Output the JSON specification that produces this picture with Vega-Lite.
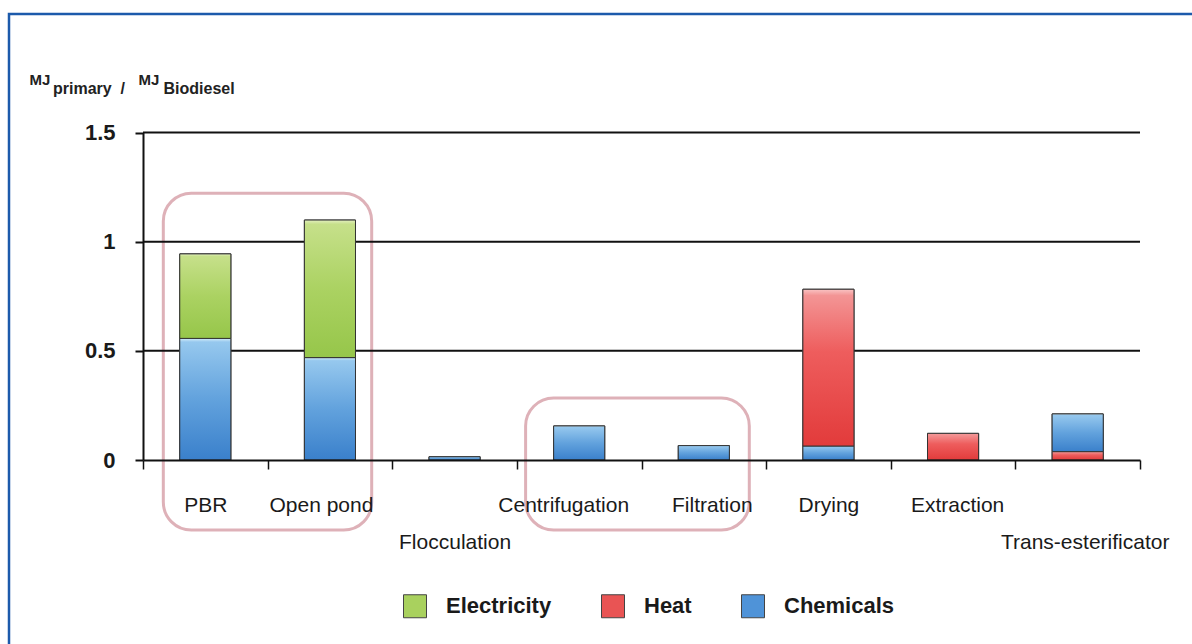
{
  "$schema": "https://vega.github.io/schema/vega-lite/v6.json",
  "width": 1183,
  "height": 630,
  "autosize": {"type": "none"},
  "padding": {"left": 9, "top": 14, "right": 0, "bottom": 0},
  "background": "white",
  "title": {
    "text": "primary\u00a0\u00a0/",
    "anchor": "start",
    "frame": "group",
    "orient": "top",
    "font": "Liberation Sans",
    "fontSize": 16,
    "fontWeight": "bold",
    "color": "#222222",
    "baseline": "alphabetic",
    "offset": 0,
    "dx": 44,
    "dy": 96
  },
  "datasets": {
    "energy": [
      {"process": "PBR", "type": "Chemicals", "value": 0.557, "order": 1},
      {"process": "PBR", "type": "Electricity", "value": 0.387, "order": 2},
      {"process": "Open pond", "type": "Chemicals", "value": 0.469, "order": 1},
      {"process": "Open pond", "type": "Electricity", "value": 0.63, "order": 2},
      {"process": "Flocculation", "type": "Chemicals", "value": 0.015, "order": 1},
      {"process": "Centrifugation", "type": "Chemicals", "value": 0.156, "order": 1},
      {"process": "Filtration", "type": "Chemicals", "value": 0.066, "order": 1},
      {"process": "Drying", "type": "Chemicals", "value": 0.064, "order": 1},
      {"process": "Drying", "type": "Heat", "value": 0.718, "order": 2},
      {"process": "Extraction", "type": "Heat", "value": 0.122, "order": 1},
      {"process": "Trans-esterificator", "type": "Heat", "value": 0.038, "order": 1},
      {"process": "Trans-esterificator", "type": "Chemicals", "value": 0.173, "order": 2}
    ]
  },
  "layer": [
    {
      "data": {"values": [{}]},
      "mark": {"type": "rect", "fillOpacity": 0, "stroke": "#d69ea6", "strokeOpacity": 0.8, "strokeWidth": 3, "cornerRadius": 28},
      "encoding": {
        "x": {"datum": "PBR", "type": "nominal", "bandPosition": 0.163},
        "x2": {"datum": "Open pond", "bandPosition": 0.835},
        "y": {"datum": 1.222, "type": "quantitative"},
        "y2": {"datum": -0.321}
      }
    },
    {
      "data": {"values": [{}]},
      "mark": {"type": "rect", "fillOpacity": 0, "stroke": "#d69ea6", "strokeOpacity": 0.8, "strokeWidth": 3, "cornerRadius": 28},
      "encoding": {
        "x": {"datum": "Centrifugation", "type": "nominal", "bandPosition": 0.07},
        "x2": {"datum": "Filtration", "bandPosition": 0.865},
        "y": {"datum": 0.284, "type": "quantitative"},
        "y2": {"datum": -0.321}
      }
    },
    {
      "data": {"values": [{"v": 0.5}, {"v": 1}, {"v": 1.5}]},
      "mark": {"type": "rule", "stroke": "#111111", "strokeWidth": 2},
      "encoding": {
        "x": {"datum": "PBR", "type": "nominal", "bandPosition": 0},
        "x2": {"datum": "Trans-esterificator", "bandPosition": 1},
        "y": {"field": "v", "type": "quantitative"}
      }
    },
    {
      "data": {"values": [{"label": "Biodiesel"}]},
      "mark": {"type": "text", "align": "left", "baseline": "alphabetic", "font": "Liberation Sans", "fontSize": 16, "fontWeight": "bold", "color": "#222222"},
      "encoding": {
        "x": {"datum": "PBR", "type": "nominal", "bandPosition": 0.165},
        "y": {"datum": 1.676, "type": "quantitative"},
        "text": {"field": "label", "type": "nominal"}
      }
    },
    {
      "data": {"name": "energy"},
      "transform": [
        {"stack": "value", "groupby": ["process"], "sort": [{"field": "order", "order": "ascending"}], "as": ["y0", "y1"]}
      ],
      "mark": {"type": "bar", "width": {"band": 0.41}, "stroke": "#333333", "strokeWidth": 1},
      "encoding": {
        "x": {
          "field": "process",
          "type": "nominal",
          "sort": null,
          "scale": {
            "domain": ["PBR", "Open pond", "Flocculation", "Centrifugation", "Filtration", "Drying", "Extraction", "Trans-esterificator"],
            "range": [134, 1131],
            "paddingInner": 0,
            "paddingOuter": 0
          },
          "axis": {
            "title": "MJ",
            "titleX": 129,
            "titleY": -376,
            "titleAngle": 0,
            "titleAlign": "left",
            "titleBaseline": "alphabetic",
            "titleFont": "Liberation Sans",
            "titleFontSize": 15,
            "titleFontWeight": "bold",
            "titleColor": "#222222",
            "offset": -184,
            "zindex": 1,
            "domainColor": "#111111",
            "domainWidth": 2,
            "tickColor": "#111111",
            "tickWidth": 1.5,
            "tickSize": 9,
            "tickBand": "extent",
            "labelFont": "Liberation Sans",
            "labelFontSize": 21,
            "labelColor": "#1a1a1a",
            "labelAngle": 0,
            "labelAlign": "center",
            "labelBaseline": "top",
            "labelPadding": 25,
            "labelLineHeight": 37,
            "labelOverlap": false,
            "labelBound": false,
            "labelFlush": false,
            "labelLimit": 400,
            "labelOffset": {
              "condition": [
                {"test": "datum.value == 'Open pond'", "value": -9},
                {"test": "datum.value == 'Centrifugation'", "value": -16},
                {"test": "datum.value == 'Filtration'", "value": 8},
                {"test": "datum.value == 'Extraction'", "value": 4},
                {"test": "datum.value == 'Trans-esterificator'", "value": 7}
              ],
              "value": 0
            },
            "labelExpr": "datum.label == 'Flocculation' || datum.label == 'Trans-esterificator' ? ['', datum.label] : datum.label"
          }
        },
        "y": {
          "field": "y1",
          "type": "quantitative",
          "scale": {"domain": [0, 1.5], "range": [446, 118.5], "nice": false, "zero": false},
          "axis": {
            "title": "MJ",
            "titleX": -114,
            "titleY": 70,
            "titleAngle": 0,
            "titleAlign": "left",
            "titleBaseline": "alphabetic",
            "titleFont": "Liberation Sans",
            "titleFontSize": 15,
            "titleFontWeight": "bold",
            "titleColor": "#222222",
            "offset": -134,
            "values": [0, 0.5, 1, 1.5],
            "format": "~g",
            "grid": false,
            "domainColor": "#111111",
            "domainWidth": 2,
            "tickColor": "#111111",
            "tickWidth": 2,
            "tickSize": 8,
            "labelFont": "Liberation Sans",
            "labelFontSize": 22,
            "labelFontWeight": "bold",
            "labelColor": "#1a1a1a",
            "labelPadding": 20
          }
        },
        "y2": {"field": "y0"},
        "color": {
          "field": "type",
          "type": "nominal",
          "scale": {"domain": ["Electricity", "Heat", "Chemicals"], "range": ["#a9d15e", "#e95454", "#4f93d8"]},
          "legend": {
            "orient": "none",
            "legendX": 394,
            "legendY": 580,
            "direction": "horizontal",
            "title": null,
            "symbolType": "square",
            "symbolSize": 529,
            "symbolStrokeColor": "#444444",
            "symbolStrokeWidth": 1,
            "labelFont": "Liberation Sans",
            "labelFontSize": 22,
            "labelFontWeight": "bold",
            "labelColor": "#1a1a1a",
            "labelOffset": 19,
            "columnPadding": 47,
            "labelLimit": 300
          }
        }
      }
    },
    {
      "data": {"name": "energy"},
      "transform": [
        {"stack": "value", "groupby": ["process"], "sort": [{"field": "order", "order": "ascending"}], "as": ["y0", "y1"]},
        {"filter": "datum.type == 'Chemicals'"}
      ],
      "mark": {
        "type": "bar", "width": {"band": 0.41}, "stroke": "#333333", "strokeWidth": 1,
        "fill": {"gradient": "linear", "x1": 0, "y1": 0, "x2": 0, "y2": 1, "stops": [
          {"offset": 0, "color": "#d4ecfa"}, {"offset": 0.03, "color": "#96c8ee"}, {"offset": 0.5, "color": "#62a2dd"}, {"offset": 1, "color": "#3a80cb"}
        ]}
      },
      "encoding": {
        "x": {"field": "process", "type": "nominal", "sort": null},
        "y": {"field": "y1", "type": "quantitative"},
        "y2": {"field": "y0"}
      }
    },
    {
      "data": {"name": "energy"},
      "transform": [
        {"stack": "value", "groupby": ["process"], "sort": [{"field": "order", "order": "ascending"}], "as": ["y0", "y1"]},
        {"filter": "datum.type == 'Electricity'"}
      ],
      "mark": {
        "type": "bar", "width": {"band": 0.41}, "stroke": "#333333", "strokeWidth": 1,
        "fill": {"gradient": "linear", "x1": 0, "y1": 0, "x2": 0, "y2": 1, "stops": [
          {"offset": 0, "color": "#e4f1c0"}, {"offset": 0.03, "color": "#c6e08a"}, {"offset": 0.5, "color": "#abd262"}, {"offset": 1, "color": "#96c64a"}
        ]}
      },
      "encoding": {
        "x": {"field": "process", "type": "nominal", "sort": null},
        "y": {"field": "y1", "type": "quantitative"},
        "y2": {"field": "y0"}
      }
    },
    {
      "data": {"name": "energy"},
      "transform": [
        {"stack": "value", "groupby": ["process"], "sort": [{"field": "order", "order": "ascending"}], "as": ["y0", "y1"]},
        {"filter": "datum.type == 'Heat'"}
      ],
      "mark": {
        "type": "bar", "width": {"band": 0.41}, "stroke": "#333333", "strokeWidth": 1,
        "fill": {"gradient": "linear", "x1": 0, "y1": 0, "x2": 0, "y2": 1, "stops": [
          {"offset": 0, "color": "#f9c4c4"}, {"offset": 0.04, "color": "#f39595"}, {"offset": 0.4, "color": "#ee5d5d"}, {"offset": 1, "color": "#e23b3b"}
        ]}
      },
      "encoding": {
        "x": {"field": "process", "type": "nominal", "sort": null},
        "y": {"field": "y1", "type": "quantitative"},
        "y2": {"field": "y0"}
      }
    }
  ],
  "config": {
    "view": {"stroke": "#1c5aab", "strokeWidth": 2.5, "strokeDash": [1183, 1813, 630], "fill": "white"},
    "font": "Liberation Sans"
  }
}
